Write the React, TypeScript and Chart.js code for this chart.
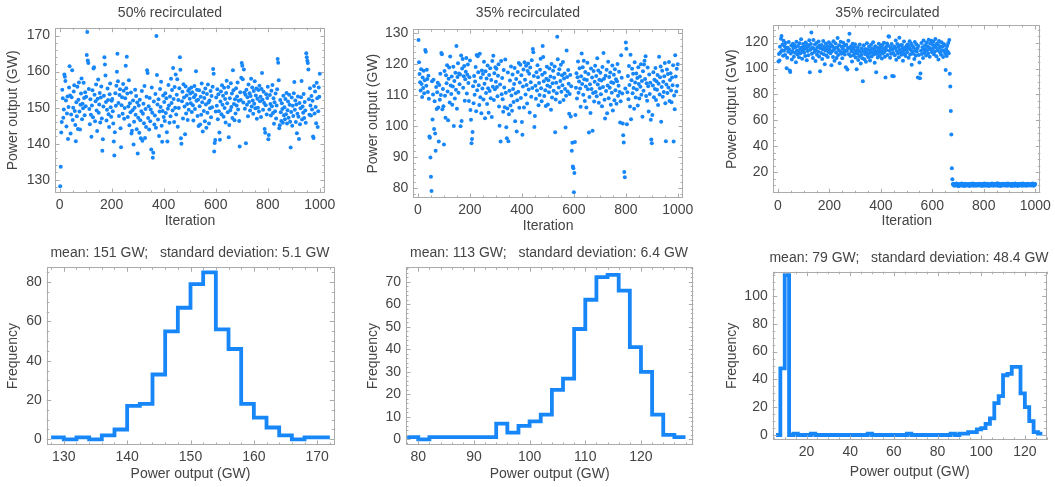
import { useEffect, useRef } from "react";
import { Chart, registerables } from "chart.js";

Chart.register(...registerables);

const W = 1055;
const H = 487;
const FONT_FAMILY = '"Liberation Sans", Arial, Helvetica, sans-serif';
const TEXT_COLOR = "#444444";
const FRAME_COLOR = "#ababab";
const BLUE = "rgb(22, 134, 248)";
const Y_AXIS_BOX = 44;
const X_AXIS_BOX = 26;

// Samples are recorded every second iteration.
const ITERATION_STEP = 2;
const ITERATION_TICKS = [0, 200, 400, 600, 800, 1000];

// Power output (GW), 50% recirculated
const output50 = [
  128.2, 133.6, 143.1, 146.0, 155.0, 152.6, 147.2, 149.5, 159.2, 158.6, 157.4, 152.0, 144.8, 148.4, 153.1, 141.3, 150.2, 155.6, 161.5, 153.4, 142.8, 148.1, 152.9, 160.4, 146.6,
  150.0, 154.5, 156.2, 149.1, 145.2, 140.7, 151.5, 147.6, 155.8, 144.1, 152.2, 157.0, 148.9, 143.9, 150.8, 153.9, 158.1, 146.8, 151.1, 149.8, 156.9, 152.7, 147.9, 154.3, 150.4,
  153.0, 164.6, 171.0, 163.1, 162.4, 155.2, 149.6, 145.4, 152.3, 148.0, 141.9, 150.6, 154.8, 147.3, 160.9, 161.2, 153.6, 146.2, 151.8, 156.4, 149.2, 143.5, 152.5, 157.8, 148.6,
  150.9, 154.1, 145.9, 152.8, 155.9, 147.0, 138.0, 141.2, 150.3, 153.3, 164.0, 162.0, 158.9, 151.6, 146.4, 149.4, 155.3, 152.1, 148.2, 144.6, 153.7, 156.7, 150.1, 147.5, 151.9,
  152.4, 149.0, 145.6, 140.6, 136.7, 143.2, 154.0, 150.5, 156.1, 160.0, 165.0, 157.3, 151.3, 147.7, 153.5, 155.1, 144.3, 139.0, 150.7, 152.9, 148.3, 156.6, 154.7, 146.9, 149.9,
  152.6, 161.6, 155.4, 164.1, 153.9, 147.4, 150.3, 157.6, 145.1, 151.2, 148.7, 154.2, 142.8, 143.6, 149.3, 152.0, 139.8, 146.1, 150.0, 155.0, 148.0, 153.2, 144.0, 151.4, 137.3,
  147.2, 150.6, 143.0, 152.2, 146.5, 141.5, 149.0, 154.6, 140.8, 148.3, 151.1, 145.7, 156.0, 141.6, 149.6, 144.6, 153.0, 160.4, 159.6, 147.1, 150.4, 143.9, 152.7, 146.2, 149.5,
  138.4, 155.6, 148.6, 136.1, 137.5, 151.7, 145.3, 147.8, 153.8, 144.4, 169.9, 159.1, 150.9, 146.7, 152.3, 142.1, 148.9, 155.2, 150.2, 157.2, 145.0, 140.5, 149.1, 153.4, 147.4,
  151.6, 146.3, 154.0, 148.5, 152.6, 143.2, 140.6, 149.7, 156.3, 150.6, 145.8, 153.1, 147.6, 158.0, 151.3, 154.9, 149.2, 161.0, 152.4, 146.0, 155.7, 150.0, 159.2, 148.1, 153.6,
  157.9, 144.7, 152.1, 149.9, 155.4, 164.0, 160.5, 141.5, 140.0, 151.8, 154.4, 147.0, 156.5, 152.8, 150.3, 142.6, 155.9, 148.4, 153.4, 151.0, 146.6, 154.7, 149.4, 155.2, 152.5,
  153.9, 151.2, 155.6, 148.8, 154.3, 150.7, 146.4, 152.9, 156.0, 149.6, 153.5, 160.1, 151.9, 155.0, 147.7, 152.2, 144.9, 154.8, 150.4, 145.3, 153.0, 148.0, 156.7, 151.5, 143.4,
  154.2, 149.1, 152.7, 146.2, 155.3, 150.9, 144.4, 153.8, 148.6, 156.4, 151.4, 145.6, 152.0, 149.8, 154.6, 147.3, 153.2, 150.1, 155.8, 160.7, 159.4, 137.8, 140.2, 141.0, 148.9,
  152.8, 150.5, 155.1, 146.8, 153.7, 149.0, 143.1, 141.1, 151.7, 154.5, 148.2, 156.2, 150.8, 153.3, 147.5, 155.5, 149.9, 152.4, 145.9, 154.1, 157.5, 151.2, 148.7, 155.7, 141.8,
  145.2, 152.6, 149.3, 156.8, 150.2, 153.9, 147.1, 160.4, 154.8, 151.0, 146.5, 152.3, 148.4, 155.4, 150.6, 153.1, 157.0, 149.5, 151.9, 146.3, 139.2, 154.3, 152.1, 158.3, 162.4,
  161.6, 157.9, 151.4, 160.6, 154.2, 149.7, 153.6, 140.1, 155.0, 150.8, 152.9, 147.6, 156.4, 151.6, 154.0, 149.2, 153.2, 158.0, 150.3, 155.6, 152.0, 148.3, 154.6, 151.1, 157.3,
  149.8, 153.4, 155.3, 146.9, 152.5, 150.0, 154.9, 148.9, 156.1, 151.8, 153.0, 147.4, 155.2, 159.6, 152.2, 149.4, 154.4, 151.3, 144.1, 143.0, 150.7, 153.7, 148.1, 152.7, 155.8,
  141.2, 142.4, 149.5, 153.5, 151.0, 147.8, 154.7, 150.4, 156.3, 148.5, 152.6, 145.5, 151.5, 149.0, 153.9, 147.0, 150.6, 155.1, 163.5, 162.5, 157.6, 144.3, 145.1, 152.1, 148.7,
  146.3, 151.2, 149.6, 145.8, 153.3, 147.9, 150.1, 146.8, 152.4, 148.2, 154.1, 145.6, 149.3, 151.7, 147.2, 153.6, 150.8, 146.1, 138.9, 148.8, 152.8, 145.0, 150.5, 147.7, 154.0,
  157.1, 149.4, 152.0, 146.0, 150.9, 142.9, 148.3, 153.1, 147.5, 141.3, 151.3, 145.4, 149.8, 152.9, 157.4, 146.7, 150.3, 148.6, 153.8, 147.1, 151.6, 149.2, 145.8, 165.1, 164.0,
  163.0, 162.4, 160.6, 152.3, 148.0, 155.4, 150.6, 147.8, 153.2, 149.5, 151.9, 142.0, 141.6, 156.0, 148.4, 154.5, 150.2, 145.7, 156.9, 152.6, 144.6, 149.0, 155.6, 153.0, 159.4,
];

// Power output (GW), 35% recirculated, first run
const output35a = [
  127.8, 120.6, 116.8, 114.2, 111.5, 118.4, 113.6, 109.4, 115.7, 112.3, 117.9, 110.6, 114.8, 124.6, 124.0, 113.0, 118.2, 115.2, 111.0, 116.3, 108.8, 96.6, 96.2, 89.8, 83.6,
  79.0, 114.5, 102.1, 110.2, 115.0, 99.0, 108.0, 97.6, 92.0, 112.6, 105.5, 110.9, 114.0, 106.0, 95.0, 113.3, 108.5, 116.9, 110.0, 123.6, 123.2, 105.4, 112.0, 106.4, 94.0,
  117.8, 109.8, 102.7, 116.4, 113.8, 119.7, 111.2, 101.9, 115.3, 118.9, 107.6, 122.5, 113.1, 110.4, 116.0, 106.9, 112.8, 119.2, 100.0, 114.6, 108.9, 117.2, 111.7, 125.9, 105.6,
  115.9, 120.3, 110.8, 117.0, 113.5, 116.7, 99.9, 122.8, 101.6, 118.6, 121.7, 112.4, 116.1, 119.4, 108.2, 115.1, 117.6, 122.0, 110.5, 116.6, 119.9, 113.9, 108.1, 115.8, 121.2,
  105.2, 102.0, 94.4, 95.8, 98.1, 112.9, 107.4, 116.2, 110.1, 114.4, 119.1, 104.8, 123.0, 111.6, 122.6, 117.4, 113.2, 106.8, 123.4, 109.3, 115.6, 104.1, 118.0, 112.1, 116.8,
  108.6, 120.8, 113.7, 102.5, 117.7, 110.7, 115.4, 107.1, 119.6, 112.2, 104.3, 116.5, 111.3, 118.7, 109.0, 114.9, 102.9, 121.0, 112.7, 122.7, 108.4, 117.1, 111.9, 119.0, 114.3,
  118.5, 112.6, 109.6, 116.3, 120.0, 106.3, 100.1, 113.4, 95.0, 121.0, 110.3, 115.5, 108.7, 104.6, 118.1, 112.5, 106.1, 121.5, 110.8, 99.6, 96.0, 105.7, 117.3, 95.1, 103.8,
  111.4, 114.7, 106.6, 119.3, 109.9, 104.9, 116.7, 112.0, 107.8, 113.6, 118.8, 101.5, 110.6, 115.2, 98.2, 108.3, 117.5, 111.1, 120.4, 105.9, 114.1, 119.8, 109.1, 116.4, 101.3,
  97.2, 112.8, 118.3, 106.0, 120.6, 115.0, 110.2, 119.5, 113.3, 107.3, 117.8, 120.2, 111.8, 116.9, 104.4, 118.9, 114.2, 109.5, 121.3, 112.3, 124.9, 123.9, 116.2, 99.7, 103.2,
  113.0, 108.8, 117.4, 111.5, 119.7, 115.8, 106.7, 113.9, 110.0, 118.2, 121.8, 112.2, 108.0, 116.6, 125.9, 122.3, 114.5, 109.7, 117.2, 111.6, 106.5, 115.3, 119.2, 113.1, 107.0,
  114.8, 110.9, 118.6, 112.7, 116.0, 105.3, 120.1, 109.2, 113.8, 117.9, 111.4, 115.6, 119.3, 98.0, 108.6, 114.0, 110.6, 128.9, 121.6, 116.8, 112.5, 118.4, 107.7, 114.6, 119.8,
  111.1, 116.4, 113.2, 120.7, 108.4, 115.4, 117.0, 112.0, 99.5, 109.8, 124.4, 115.9, 111.2, 118.1, 113.7, 104.0, 110.4, 116.5, 103.1, 112.9, 92.0, 94.6, 86.9, 86.3, 78.6,
  84.8, 94.8, 103.6, 112.4, 117.1, 108.9, 115.8, 120.9, 110.8, 114.4, 118.7, 112.1, 106.2, 116.1, 123.5, 113.6, 119.0, 110.1, 121.1, 115.1, 108.1, 117.5, 112.8, 106.0, 114.9,
  120.5, 111.9, 116.8, 97.9, 109.4, 113.5, 104.2, 118.6, 112.0, 115.7, 98.5, 110.7, 117.8, 107.9, 114.3, 119.5, 111.0, 116.2, 109.6, 121.9, 113.4, 118.0, 107.5, 115.0, 112.2,
  117.2, 110.3, 114.7, 106.4, 119.1, 112.6, 123.6, 115.3, 108.5, 102.4, 116.3, 111.3, 118.2, 104.1, 113.1, 120.8, 109.0, 115.9, 112.4, 117.3, 106.9, 114.2, 110.8, 119.6, 105.0,
  113.9, 116.6, 108.3, 118.4, 111.6, 115.1, 107.2, 114.5, 120.1, 109.8, 113.0, 117.6, 111.0, 101.1, 108.0, 122.9, 115.6, 110.5, 100.8, 97.0, 94.7, 85.1, 83.4, 112.1, 127.0,
  125.0, 100.6, 110.9, 116.2, 108.7, 119.4, 113.3, 106.3, 123.1, 102.2, 114.8, 118.5, 110.6, 116.9, 112.3, 105.6, 120.6, 114.1, 109.2, 117.0, 111.8, 115.5, 106.6, 119.0, 113.6,
  108.9, 116.0, 112.7, 120.0, 110.1, 114.6, 103.0, 117.7, 111.4, 119.9, 121.1, 115.2, 122.6, 109.7, 113.8, 108.2, 118.9, 112.9, 104.7, 116.7, 110.4, 114.0, 102.0, 95.6, 94.4,
  103.6, 113.1, 117.4, 109.3, 115.0, 112.0, 118.8, 108.4, 114.5, 111.7, 116.5, 106.8, 113.7, 122.4, 110.2, 115.8, 119.3, 101.4, 112.6, 117.9, 109.5, 114.3, 111.0, 116.1, 120.4,
  107.4, 95.1, 113.4, 118.3, 110.7, 116.8, 112.5, 120.7, 108.1, 114.9, 117.1, 111.5, 107.7, 115.7, 113.2, 119.7, 95.0, 109.9, 105.4, 122.9, 116.0, 111.2, 118.5, 113.0, 120.0,
];

// Power output (GW), 35% recirculated, second run: stable phase
const output35bStable = [
  105.5, 111.2, 106.3, 116.8, 112.5, 123.0, 125.1, 114.2, 118.6, 109.9, 121.5, 113.7, 117.3, 110.5, 119.8, 115.4, 100.2, 108.4, 116.1, 112.9, 120.4, 114.8, 98.6, 97.4, 111.6,
  117.7, 106.9, 113.3, 119.2, 115.9, 109.2, 118.1, 112.2, 116.6, 104.8, 120.7, 114.0, 110.9, 117.5, 113.0, 108.7, 119.5, 115.1, 111.9, 122.6, 116.3, 107.6, 113.8, 118.9, 114.5,
  112.4, 117.0, 109.6, 120.1, 115.6, 106.5, 118.3, 113.5, 110.2, 116.9, 121.8, 97.2, 114.6, 119.0, 127.9, 111.4, 116.0, 108.1, 122.1, 115.3, 112.7, 118.5, 105.8, 114.1, 119.7,
  110.7, 116.4, 113.1, 120.9, 109.4, 117.8, 98.0, 115.7, 112.0, 118.2, 107.3, 114.9, 121.2, 111.1, 116.7, 103.4, 113.9, 119.4, 110.0, 115.0, 117.4, 108.9, 112.8, 120.2, 114.3,
  116.5, 111.8, 118.7, 102.6, 113.4, 117.1, 109.0, 121.0, 114.7, 106.0, 115.8, 119.3, 112.3, 108.2, 116.2, 123.5, 110.4, 114.4, 118.0, 104.1, 113.2, 120.6, 111.5, 116.8, 107.9,
  115.2, 119.9, 112.6, 117.6, 110.8, 114.0, 101.1, 118.4, 113.6, 99.2, 116.1, 121.4, 111.0, 126.8, 115.5, 109.7, 117.2, 113.1, 105.4, 119.1, 114.9, 110.3, 116.4, 112.1, 118.8,
  108.6, 113.9, 99.4, 111.7, 116.5, 106.6, 114.2, 109.5, 118.6, 112.9, 103.9, 110.6, 115.7, 108.0, 90.3, 113.4, 117.9, 107.1, 111.3, 115.1, 105.2, 112.5, 119.6, 110.1, 114.6,
  108.8, 116.9, 111.9, 106.2, 113.7, 118.3, 109.3, 115.4, 112.2, 120.3, 110.9, 114.8, 104.5, 117.3, 113.0, 97.1, 111.2, 116.0, 108.5, 114.1, 119.2, 112.4, 109.8, 115.9, 117.7,
  113.3, 107.7, 118.1, 111.6, 115.3, 120.0, 112.7, 109.1, 93.2, 116.7, 114.3, 119.4, 110.5, 117.6, 125.0, 124.6, 113.8, 108.3, 116.3, 111.4, 118.9, 94.2, 114.7, 112.0, 94.0,
  117.0, 110.2, 115.8, 121.6, 106.8, 113.5, 119.0, 111.8, 116.6, 108.7, 123.8, 114.4, 117.9, 112.3, 110.7, 118.2, 115.6, 106.1, 113.6, 120.8, 111.0, 116.2, 109.6, 114.9, 117.5,
  112.6, 118.5, 115.2, 108.4, 116.8, 121.1, 110.8, 114.5, 119.1, 102.9, 113.1, 117.2, 111.5, 116.0, 107.4, 120.5, 114.1, 109.9, 118.7, 112.9, 115.7, 93.1, 117.4, 110.4, 104.7,
  92.6, 96.1, 113.7, 119.8, 111.3, 116.5, 108.1, 121.7, 114.6, 112.2, 118.0, 115.0, 110.0, 120.1, 113.9, 117.3, 111.7, 122.3, 116.1, 109.2, 119.5, 114.8, 121.4, 112.8, 118.4,
  115.4, 120.9, 111.1, 117.8, 113.2, 122.8, 116.4, 109.5, 119.3, 114.2, 118.6, 107.0, 121.3, 115.9, 112.5, 117.1, 110.6, 120.2, 114.0, 116.9, 108.9, 119.0, 113.6, 118.1, 111.4,
  98.9, 115.1, 109.7, 117.4, 113.0, 119.7, 111.9, 122.0,
];
// the collapse
const output35bCollapse = [96.0, 86.2, 67.3, 49.2, 23.1, 14.6];
// after the collapse
const output35bSettled = [
  10.9, 10.2, 11.1, 9.6, 10.5, 10.8, 10.0, 11.3, 9.8, 10.4, 10.7, 9.3, 10.1, 11.0, 10.6, 9.9, 10.3, 11.4, 10.8, 9.7, 10.2, 10.9, 10.5, 9.5, 11.2,
  10.0, 10.6, 10.3, 9.8, 11.0, 10.4, 10.7, 9.4, 10.1, 11.1, 10.5, 9.9, 10.8, 10.2, 11.3, 9.6, 10.6, 10.0, 10.9, 10.3, 9.7, 11.0, 10.4, 10.8, 9.9,
  10.5, 11.2, 10.1, 9.8, 10.7, 10.3, 11.0, 9.5, 10.6, 10.9, 10.0, 11.4, 10.2, 9.7, 10.8, 10.4, 11.1, 9.9, 10.5, 10.2, 9.4, 10.7, 11.0, 10.1, 10.6,
  9.8, 11.3, 10.3, 10.9, 9.6, 10.4, 10.8, 10.0, 11.1, 9.9, 10.5, 10.2, 11.5, 9.7, 10.6, 10.9, 10.3, 9.5, 11.0, 10.1, 10.7, 9.8, 11.2, 10.4, 10.0,
  10.8, 9.9, 11.1, 10.3, 10.6, 9.6, 10.9, 11.3, 10.2, 9.8, 10.5, 11.0, 10.0, 10.7, 9.4, 10.4, 11.2, 10.1, 10.8, 9.7, 10.5, 11.4, 9.9, 10.3, 10.6,
  11.0, 9.5, 10.9, 10.2, 10.7, 9.8, 11.1, 10.4, 10.0, 10.6, 9.6, 11.3, 10.3, 10.8, 9.9, 10.5, 11.0, 10.1, 9.7, 10.9, 10.4, 11.2, 10.2, 9.8, 10.6,
  10.3, 11.0, 9.9, 10.7, 10.1, 11.3, 10.5, 9.6, 10.8, 10.2, 10.9,
];

// Histograms: bins of width 2 GW
const BIN_WIDTH = 2;
const hist50Start = 128;
const hist50Counts = [1, 0, 1, 0, 2, 5, 17, 18, 33, 55, 67, 79, 85, 56, 46, 18, 11, 6, 2, 0, 1, 1];
const hist35aStart = 78;
const hist35aCounts = [1, 0, 1, 1, 1, 1, 1, 1, 7, 3, 6, 8, 11, 22, 27, 49, 62, 72, 73, 66, 41, 30, 11, 2, 1];
const hist35bStart = 6;
const hist35bCounts = [
  0, 48, 115, 0, 1, 0, 0, 0, 1, 0, 0, 0, 0, 0, 0, 0, 0, 0, 0, 0, 0, 1, 0, 0, 0, 0, 0, 0, 0, 0,
  1, 0, 0, 0, 0, 0, 0, 0, 0, 0, 1, 0, 1, 1, 2, 2, 4, 5, 8, 12, 23, 28, 43, 44, 49, 49, 30, 20, 10, 2, 1,
];

type Rect = { left: number; top: number; right: number; bottom: number };
type AxisSpec = { min: number; max: number; ticks: number[]; minor: number };
type PanelSpec = {
  plot: Rect;
  x: AxisSpec;
  y: AxisSpec;
  title: string;
  titleX: number;
  titleY: number;
  xTitle: string;
  xTitleY: number;
  yTitle: string;
  yTitleX: number;
  scatter?: number[];
  binStart?: number;
  counts?: number[];
};

const POWER_LABEL = "Power output (GW)";

const PANELS: PanelSpec[] = [
  {
    plot: { left: 55, top: 27.7, right: 325, bottom: 193 },
    x: { min: -18, max: 1020, ticks: ITERATION_TICKS, minor: 50 },
    y: { min: 126.3, max: 172.2, ticks: [130, 140, 150, 160, 170], minor: 2 },
    title: "50% recirculated", titleX: 170, titleY: 13,
    xTitle: "Iteration", xTitleY: 221.5,
    yTitle: POWER_LABEL, yTitleX: 13.5,
    scatter: output50,
  },
  {
    plot: { left: 413.3, top: 29.3, right: 683, bottom: 198 },
    x: { min: -18, max: 1020, ticks: ITERATION_TICKS, minor: 50 },
    y: { min: 76.7, max: 131.3, ticks: [80, 90, 100, 110, 120, 130], minor: 2 },
    title: "35% recirculated", titleX: 528, titleY: 13,
    xTitle: "Iteration", xTitleY: 226.5,
    yTitle: POWER_LABEL, yTitleX: 372.7,
    scatter: output35a,
  },
  {
    plot: { left: 773.3, top: 25, right: 1043.3, bottom: 193.3 },
    x: { min: -18, max: 1020, ticks: ITERATION_TICKS, minor: 50 },
    y: { min: 3.8, max: 133.6, ticks: [20, 40, 60, 80, 100, 120], minor: 5 },
    title: "35% recirculated", titleX: 887.5, titleY: 13,
    xTitle: "Iteration", xTitleY: 221.5,
    yTitle: POWER_LABEL, yTitleX: 732.3,
    scatter: [...output35bStable, ...output35bCollapse, ...output35bSettled],
  },
  {
    plot: { left: 46.7, top: 267.3, right: 334.3, bottom: 445 },
    x: { min: 127.3, max: 172.7, ticks: [130, 140, 150, 160, 170], minor: 2 },
    y: { min: -2.9, max: 87.6, ticks: [0, 20, 40, 60, 80], minor: 5 },
    title: "mean: 151 GW;   standard deviation: 5.1 GW", titleX: 190, titleY: 253.3,
    xTitle: POWER_LABEL, xTitleY: 474.3,
    yTitle: "Frequency", yTitleX: 13.3,
    binStart: hist50Start, counts: hist50Counts,
  },
  {
    plot: { left: 406, top: 267.3, right: 693.3, bottom: 445 },
    x: { min: 77.8, max: 129.4, ticks: [80, 90, 100, 110, 120], minor: 2 },
    y: { min: -2.5, max: 76.4, ticks: [0, 10, 20, 30, 40, 50, 60, 70], minor: 2 },
    title: "mean: 113 GW;   standard deviation: 6.4 GW", titleX: 549, titleY: 253.3,
    xTitle: POWER_LABEL, xTitleY: 474.3,
    yTitle: "Frequency", yTitleX: 373.3,
    binStart: hist35aStart, counts: hist35aCounts,
  },
  {
    plot: { left: 772.7, top: 271.7, right: 1046.7, bottom: 440 },
    x: { min: 4.5, max: 130, ticks: [20, 40, 60, 80, 100, 120], minor: 5 },
    y: { min: -3.6, max: 117.5, ticks: [0, 20, 40, 60, 80, 100], minor: 5 },
    title: "mean: 79 GW;   standard deviation: 48.4 GW", titleX: 909, titleY: 257.7,
    xTitle: POWER_LABEL, xTitleY: 471.7,
    yTitle: "Frequency", yTitleX: 731.7,
    binStart: hist35bStart, counts: hist35bCounts,
  },
];

// Outline of a histogram as a step line: each bin's count holds from its left edge.
function stepPoints(start: number, counts: number[]) {
  const pts = counts.map((c, i) => ({ x: start + i * BIN_WIDTH, y: c }));
  pts.push({ x: start + counts.length * BIN_WIDTH, y: counts[counts.length - 1] });
  return pts;
}

// Grey frame around the plot area with inward major and minor ticks on all four sides.
const frameTicks = {
  id: "frameTicks",
  afterDatasetsDraw(chart: any, _args: any, opts: any) {
    const { ctx, chartArea: a, scales } = chart;
    const xs = scales.x;
    const ys = scales.y;
    ctx.save();
    ctx.strokeStyle = FRAME_COLOR;
    ctx.lineWidth = 1;
    ctx.beginPath();
    const markX = (v: number, len: number) => {
      const p = Math.round(xs.getPixelForValue(v)) + 0.5;
      ctx.moveTo(p, a.bottom);
      ctx.lineTo(p, a.bottom - len);
      ctx.moveTo(p, a.top);
      ctx.lineTo(p, a.top + len);
    };
    const markY = (v: number, len: number) => {
      const p = Math.round(ys.getPixelForValue(v)) + 0.5;
      ctx.moveTo(a.left, p);
      ctx.lineTo(a.left + len, p);
      ctx.moveTo(a.right, p);
      ctx.lineTo(a.right - len, p);
    };
    const marks = (axis: AxisSpec, mark: (v: number, len: number) => void) => {
      const first = Math.ceil(axis.min / axis.minor) * axis.minor;
      for (let v = first; v <= axis.max + 1e-9; v += axis.minor) {
        if (!axis.ticks.some((t) => Math.abs(t - v) < 1e-9)) mark(v, 2.5);
      }
      axis.ticks.forEach((t) => mark(t, 4.5));
    };
    marks(opts.x, markX);
    marks(opts.y, markY);
    ctx.stroke();
    ctx.strokeRect(Math.round(a.left) + 0.5, Math.round(a.top) + 0.5, Math.round(a.right - a.left) - 1, Math.round(a.bottom - a.top) - 1);
    ctx.restore();
  },
};

// Panel heading and axis titles.
const panelText = {
  id: "panelText",
  afterDraw(chart: any, _args: any, opts: any) {
    const { ctx, chartArea: a } = chart;
    ctx.save();
    ctx.fillStyle = TEXT_COLOR;
    ctx.font = `14px ${FONT_FAMILY}`;
    ctx.textAlign = "center";
    ctx.textBaseline = "middle";
    ctx.fillText(opts.title, opts.titleX, opts.titleY);
    ctx.fillText(opts.xTitle, (a.left + a.right) / 2, opts.xTitleY);
    ctx.translate(opts.yTitleX, (a.top + a.bottom) / 2);
    ctx.rotate(-Math.PI / 2);
    ctx.fillText(opts.yTitle, 0, 0);
    ctx.restore();
  },
};

function axisOptions(axis: AxisSpec, horizontal: boolean) {
  return {
    type: "linear",
    min: axis.min,
    max: axis.max,
    grid: { display: false, drawTicks: false },
    border: { display: false },
    afterFit: (s: any) => {
      if (horizontal) s.height = X_AXIS_BOX;
      else s.width = Y_AXIS_BOX;
    },
    afterBuildTicks: (s: any) => {
      s.ticks = axis.ticks.map((v) => ({ value: v }));
    },
    ticks: {
      autoSkip: false,
      maxRotation: 0,
      padding: horizontal ? 4 : 5,
      color: TEXT_COLOR,
      font: { family: FONT_FAMILY, size: 14 },
      callback: (v: any) => String(v),
    },
  };
}

function Panel({ spec }: { spec: PanelSpec }) {
  const ref = useRef<HTMLCanvasElement>(null);
  useEffect(() => {
    const canvas = ref.current;
    if (!canvas) return;
    const isScatter = !!spec.scatter;
    const dataset: any = isScatter
      ? {
          type: "scatter",
          data: spec.scatter!.map((v, i) => ({ x: (i + 1) * ITERATION_STEP, y: v })),
          pointRadius: 2,
          pointBackgroundColor: BLUE,
          pointBorderWidth: 0,
          showLine: false,
        }
      : {
          type: "line",
          data: stepPoints(spec.binStart!, spec.counts!),
          stepped: "before",
          borderColor: BLUE,
          borderWidth: 3.8,
          borderJoinStyle: "miter",
          pointRadius: 0,
          fill: false,
        };
    const p = spec.plot;
    const chart = new Chart(canvas, {
      type: isScatter ? "scatter" : "line",
      data: { datasets: [dataset] },
      options: {
        animation: false,
        responsive: false,
        devicePixelRatio: 1,
        events: [],
        layout: {
          padding: {
            left: p.left - Y_AXIS_BOX,
            top: p.top,
            right: W - p.right,
            bottom: H - p.bottom - X_AXIS_BOX,
          },
        },
        plugins: {
          legend: { display: false },
          tooltip: { enabled: false },
          title: { display: false },
          frameTicks: { x: spec.x, y: spec.y },
          panelText: {
            title: spec.title, titleX: spec.titleX, titleY: spec.titleY,
            xTitle: spec.xTitle, xTitleY: spec.xTitleY,
            yTitle: spec.yTitle, yTitleX: spec.yTitleX,
          },
        },
        scales: {
          x: axisOptions(spec.x, true),
          y: axisOptions(spec.y, false),
        },
      } as any,
      plugins: [frameTicks, panelText],
    });
    return () => chart.destroy();
  }, [spec]);
  return (
    <canvas
      ref={ref}
      width={W}
      height={H}
      style={{ position: "absolute", left: 0, top: 0, width: W, height: H }}
    />
  );
}

export default function App() {
  return (
    <div style={{ position: "fixed", left: 0, top: 0, width: W, height: H, background: "#fff", overflow: "hidden" }}>
      {PANELS.map((spec, i) => (
        <Panel key={i} spec={spec} />
      ))}
    </div>
  );
}
